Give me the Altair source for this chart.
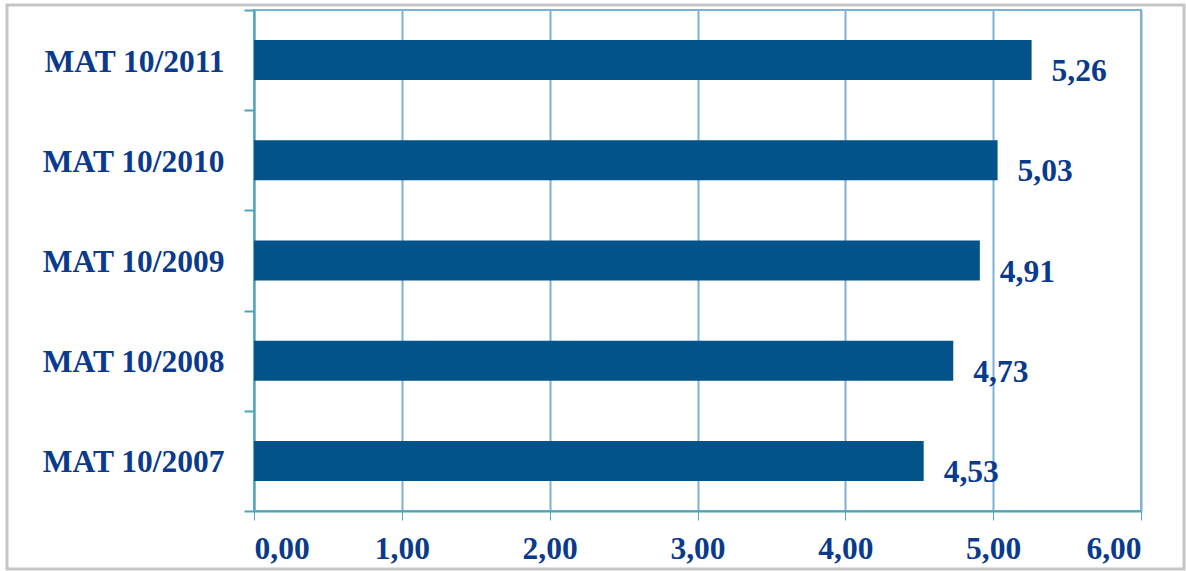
import altair as alt
import pandas as pd

categories = ["MAT 10/2011", "MAT 10/2010", "MAT 10/2009", "MAT 10/2008", "MAT 10/2007"]
values = [5.26, 5.03, 4.91, 4.73, 4.53]
x_ticks = [0, 1, 2, 3, 4, 5, 6]

df = pd.DataFrame({"cat": categories, "value": values})

TEXT = "#0A3A8C"
BAR = "#02538A"
FONT = "Liberation Serif"
FS = 31.5

W, H = 887, 501

yenc = alt.Y(
    "cat:N",
    sort=categories,
    scale=alt.Scale(paddingInner=0, paddingOuter=0),
    axis=alt.Axis(
        title=None, labelFont=FONT, labelFontSize=FS, labelFontWeight="bold",
        labelColor=TEXT, labelPadding=20, labelLimit=400, labelOffset=2, tickSize=10,
        tickColor="#4BA6B8", tickWidth=2, domainColor="#4BA6B8", domainWidth=2,
        tickBand="extent", tickExtra=True,
    ),
)
xenc = alt.X(
    "value:Q",
    scale=alt.Scale(domain=[0, 6], nice=False),
    axis=alt.Axis(
        title=None, values=x_ticks, labelExpr="replace(format(datum.value, '.2f'), '.', ',')",
        labelFont=FONT, labelFontSize=FS, labelFontWeight="bold", labelColor=TEXT,
        labelPadding=13, tickSize=9, tickColor="#4BA6B8", domainColor="#4BA6B8",
        domainWidth=2, grid=True, gridColor="#7DB2D6", gridWidth=2,
    ),
)

bars = alt.Chart(df).mark_bar(color=BAR, size=40).encode(x=xenc, y=yenc)

labels = alt.Chart(df).transform_calculate(
    label="replace(format(datum.value, '.2f'), '.', ',')"
).mark_text(
    align="left", baseline="middle", dx=20, dy=12, font=FONT, fontSize=FS,
    fontWeight="bold", color=TEXT,
).encode(x="value:Q", y=alt.Y("cat:N", sort=categories), text="label:N")

frame = alt.Chart(pd.DataFrame({"a": [0]})).mark_rect(
    fill=None, stroke="#C6C6C6", strokeWidth=3
).encode(
    x=alt.value(-247), x2=alt.value(930), y=alt.value(-5), y2=alt.value(559)
)

chart = alt.layer(frame, bars, labels).properties(
    width=W, height=H,
    autosize=alt.AutoSizeParams(type="none"),
    padding={"left": 254, "right": 45, "top": 10, "bottom": 60},
    background="white",
).configure_view(stroke="#7DB2D6", strokeWidth=2)

chart.save("out.html", embed_options={"renderer": "svg", "actions": False})
